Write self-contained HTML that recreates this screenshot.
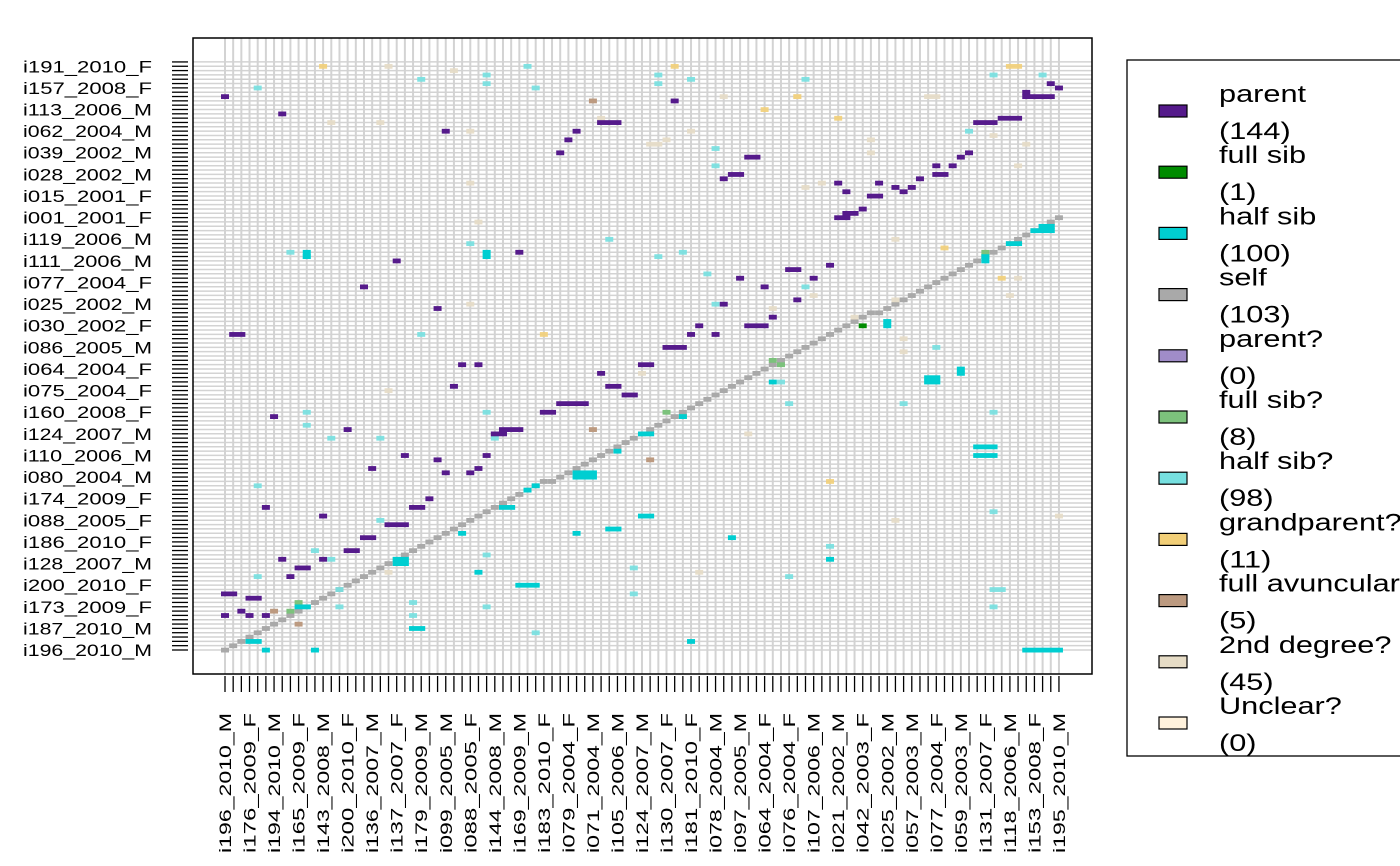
<!DOCTYPE html>
<html><head><meta charset="utf-8"><style>
body{margin:0;background:#fff;}
svg{display:block;font-family:"Liberation Sans",Arial,sans-serif;}
</style></head><body>
<svg id="c" width="1400" height="866" xmlns="http://www.w3.org/2000/svg"></svg>
<script>
const catNames=["parent","full sib","half sib","self","parent?","full sib?","half sib?","grandparent?","full avuncular","2nd degree?","Unclear?"];
const catCounts=[144,1,100,103,0,8,98,11,5,45,0];
const catColors=["#551A8B","#008B00","#00CED1","#A9A9A9","#A08CC8","#7CC27C","#76E0E0","#F2CF78","#BC9A80","#E6DCC6","#FFF2DC"];
const yLabels=["i196_2010_M","i187_2010_M","i173_2009_F","i200_2010_F","i128_2007_M","i186_2010_F","i088_2005_F","i174_2009_F","i080_2004_M","i110_2006_M","i124_2007_M","i160_2008_F","i075_2004_F","i064_2004_F","i086_2005_M","i030_2002_F","i025_2002_M","i077_2004_F","i111_2006_M","i119_2006_M","i001_2001_F","i015_2001_F","i028_2002_M","i039_2002_M","i062_2004_M","i113_2006_M","i157_2008_F","i191_2010_F"];
const xLabels=["i196_2010_M","i176_2009_F","i194_2010_M","i165_2009_F","i143_2008_M","i200_2010_F","i136_2007_M","i137_2007_F","i179_2009_M","i099_2005_M","i088_2005_F","i144_2008_M","i169_2009_M","i183_2010_F","i079_2004_F","i071_2004_M","i105_2006_M","i124_2007_M","i130_2007_F","i181_2010_F","i078_2004_M","i097_2005_M","i064_2004_F","i076_2004_F","i107_2006_M","i021_2002_M","i042_2003_F","i025_2002_M","i057_2003_M","i077_2004_F","i059_2003_M","i131_2007_F","i118_2006_M","i153_2008_F","i195_2010_M"];
const selfRows=[0,1,2,3,4,5,6,7,8,9,10,11,12,13,14,15,16,17,18,19,20,21,22,23,24,25,26,27,28,29,30,31,32,33,34,35,36,37,38,39,39,40,41,42,43,44,45,46,47,48,49,50,51,52,53,54,55,56,57,58,59,60,61,62,63,64,65,66,67,68,69,70,71,72,73,74,75,76,77,78,78,79,80,81,82,83,84,85,86,87,88,89,90,91,92,93,94,95,96,97,98,99,100];
// [col,row,span]
const parentCells=[[0,128,1],[7,124,1],[27,120,1],[46,122,3],[55,127,1],[41,115,1],[42,118,1],[43,120,1],[64,114,2],[61,109,1],[62,110,2],[92,122,3],[95,123,3],[98,128,4],[98,129,1],[101,131,1],[102,130,1],[91,115,1],[90,114,1],[89,112,1],[87,110,2],[87,112,1],[85,109,1],[84,107,1],[83,106,1],[82,107,1],[80,108,1],[79,105,2],[78,102,1],[76,101,2],[75,100,2],[75,108,1],[76,106,1],[21,90,1],[36,92,1],[17,84,1],[26,79,1],[1,73,2],[60,73,1],[58,75,1],[57,73,1],[54,70,3],[61,80,1],[63,86,1],[66,84,1],[69,88,2],[72,86,1],[74,89,1],[67,77,1],[64,75,3],[70,81,1],[51,66,2],[46,64,1],[47,61,2],[49,59,2],[29,66,1],[31,66,1],[28,61,1],[41,57,4],[39,55,2],[6,54,1],[15,51,1],[34,51,3],[33,50,2],[22,45,1],[18,42,1],[26,44,1],[27,41,1],[30,41,1],[31,42,1],[32,45,1],[25,35,1],[23,33,2],[5,33,1],[12,31,1],[20,29,3],[17,26,2],[15,23,2],[7,21,1],[9,19,2],[12,21,1],[8,17,1],[0,13,2],[3,12,2],[2,9,1],[0,8,1],[3,8,1],[5,8,1]];
const halfSibCells=[[99,97,3],[100,98,2],[96,94,2],[93,90,1],[93,91,1],[81,76,1],[81,75,1],[86,62,2],[86,63,2],[90,65,1],[90,64,1],[92,47,3],[92,45,3],[57,2,1],[98,0,5],[48,46,1],[51,50,2],[43,41,3],[43,40,3],[37,37,1],[38,38,1],[34,33,2],[29,27,1],[21,21,2],[21,20,2],[5,0,1],[11,0,1],[3,2,2],[9,10,2],[36,15,3],[23,5,2],[31,18,1],[43,27,1],[47,28,2],[51,31,2],[62,26,1],[74,21,1],[67,62,1],[10,92,1],[10,91,1],[32,92,1],[32,91,1],[56,54,1]];
const halfSibQCells=[[4,130,1],[24,132,1],[32,133,1],[37,135,1],[32,131,1],[38,130,1],[53,133,1],[53,131,1],[57,132,1],[60,116,1],[60,112,1],[71,132,1],[91,120,1],[94,133,1],[100,133,1],[8,92,1],[10,91,1],[30,94,1],[47,95,1],[53,91,1],[56,92,1],[59,87,1],[24,73,1],[71,84,1],[68,62,1],[69,57,1],[10,55,1],[10,52,1],[13,49,1],[19,49,1],[32,55,1],[33,49,1],[4,38,1],[4,17,1],[11,23,1],[13,21,1],[32,22,1],[50,19,1],[50,13,1],[32,10,1],[38,4,1],[23,8,1],[23,11,1],[14,10,1],[14,14,1],[19,30,1],[94,55,1],[94,14,2],[94,10,1],[94,32,1],[74,24,1],[69,17,1],[83,57,1],[87,70,1],[60,80,1]];
const grandCells=[[12,135,1],[55,135,1],[96,135,2],[39,73,1],[74,39,1],[88,93,1],[95,86,1],[70,128,1],[66,125,1],[75,123,1]];
const secondCells=[[20,135,1],[28,134,1],[13,122,1],[19,122,1],[30,120,1],[46,123,1],[54,118,1],[57,120,1],[61,128,1],[70,128,1],[86,128,2],[94,122,1],[94,119,1],[79,118,1],[79,115,1],[71,107,1],[73,108,1],[30,108,1],[31,99,1],[30,80,1],[67,79,1],[72,82,1],[82,95,1],[82,81,1],[77,77,1],[83,72,1],[83,69,1],[51,64,1],[20,60,1],[64,50,1],[82,30,1],[102,31,1],[20,18,1],[58,18,1],[52,117,2],[97,112,1],[98,117,1],[96,82,1],[97,86,1]];
const avuncCells=[[45,127,1],[45,51,1],[52,44,1],[6,9,1],[9,6,1],[93,91,1]];
const fullSibCells=[[78,75,1]];
const fullSibQCells=[[54,55,1],[56,54,1],[67,67,1],[68,66,1],[93,92,1],[9,11,1],[8,9,1]];

const svg=document.getElementById('c');const NS="http://www.w3.org/2000/svg";
function mk(t,a,p){const e=document.createElementNS(NS,t);for(const k in a)e.setAttribute(k,a[k]);(p||svg).appendChild(e);return e;}
const NC=103,NR=137,X0=225,XS=8.176,Y0=650,YS=4.324;
const xs=c=>X0+c*XS, ys=r=>Y0-r*YS;
const gGrid=mk('g',{});

for(let c=0;c<NC;c++)mk('line',{x1:xs(c),x2:xs(c),y1:38,y2:674,stroke:'#d3d3d3','stroke-width':2},gGrid);
for(let r=0;r<NR;r++)mk('line',{x1:193,x2:1092,y1:ys(r),y2:ys(r),stroke:'#d3d3d3','stroke-width':1.5},gGrid);
const gCells=mk('g',{});

function draw(list,ci,op){list.forEach(d=>{const e=mk('rect',{x:xs(d[0])-4,y:ys(d[1])-2.3,width:XS*(d[2]-1)+8,height:4.8,fill:catColors[ci],opacity:op},gCells);

});}
draw(selfRows.map((r,c)=>[c,r,1]),3,1);
draw(secondCells,9,0.9);draw(grandCells,7,0.9);draw(avuncCells,8,1);
draw(halfSibQCells,6,0.9);draw(fullSibQCells,5,1);
draw(halfSibCells,2,1);draw(fullSibCells,1,1);draw(parentCells,0,1);
const fr=mk('rect',{x:193,y:38,width:899,height:636,fill:'none',stroke:'#000','stroke-width':1.5});

const gT=mk('g',{});

for(let r=0;r<NR;r++)mk('line',{x1:172,x2:188,y1:ys(r),y2:ys(r),stroke:'#000','stroke-width':1.3},gT);
for(let c=0;c<NC;c++)mk('line',{x1:xs(c),x2:xs(c),y1:676,y2:692,stroke:'#000','stroke-width':1.3},gT);
yLabels.forEach((l,i)=>{const t=mk('text',{x:152,y:ys(i*5)+6,'text-anchor':'end','font-size':17,fill:'#000',textLength:129,lengthAdjust:'spacingAndGlyphs'});t.textContent=l;
});
xLabels.forEach((l,i)=>{const x=xs(i*3)+6;const t=mk('text',{x:0,y:0,transform:`translate(${x},713) rotate(-90)`,'text-anchor':'end','font-size':17,fill:'#000',textLength:140,lengthAdjust:'spacingAndGlyphs'});t.textContent=l;
});
const lg=mk('g',{});

mk('rect',{x:1127,y:60,width:300,height:696,fill:'#fff',stroke:'#000','stroke-width':1.3},lg);
catNames.forEach((n,i)=>{const y=111+i*61.2;
const s=mk('rect',{x:1159,y:y-6,width:28,height:12,fill:catColors[i],stroke:'#000','stroke-width':1.2},lg);

const t=mk('text',{x:0,y:0,transform:`translate(1219,${y-9}) scale(1.28,1)`,'font-size':24,fill:'#000'},lg);t.textContent=n;

const t2=mk('text',{x:0,y:0,transform:`translate(1219,${y+28}) scale(1.28,1)`,'font-size':24,fill:'#000'},lg);t2.textContent='('+catCounts[i]+')';
});
</script>
</body></html>
